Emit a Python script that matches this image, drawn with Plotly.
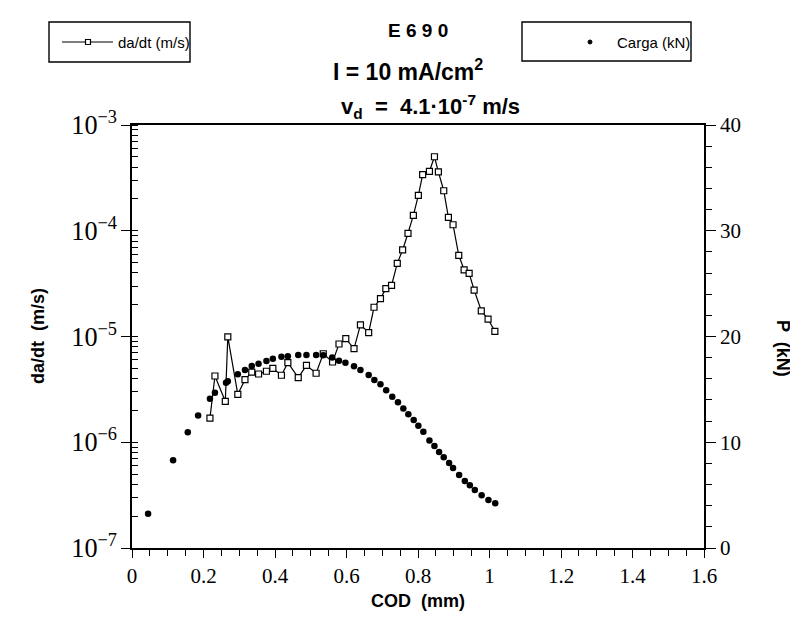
import plotly.graph_objects as go

# --- Carga (kN) series (dots, right axis) ---
cod_p = [0.045, 0.115, 0.156, 0.185, 0.218, 0.232, 0.263, 0.268, 0.296, 0.316,
         0.335, 0.354, 0.376, 0.394, 0.418, 0.436, 0.465, 0.488, 0.515, 0.535,
         0.560, 0.579, 0.597, 0.621, 0.639, 0.662, 0.678, 0.695, 0.711, 0.728,
         0.744, 0.759, 0.773, 0.788, 0.801, 0.815, 0.832, 0.846, 0.859, 0.872,
         0.887, 0.898, 0.915, 0.931, 0.945, 0.959, 0.978, 0.997, 1.016]
carga = [3.24, 8.29, 10.94, 12.53, 14.12, 14.69, 15.63, 15.76, 16.43, 16.83,
         17.21, 17.43, 17.68, 17.90, 18.09, 18.13, 18.25, 18.25, 18.25, 18.22,
         18.01, 17.71, 17.51, 17.18, 16.83, 16.36, 15.89, 15.48, 14.91, 14.31,
         13.78, 13.19, 12.65, 12.10, 11.56, 11.00, 10.17, 9.65, 9.08, 8.58,
         8.04, 7.57, 6.90, 6.34, 5.93, 5.48, 4.98, 4.54, 4.23]

# --- da/dt (m/s) series (open squares + line, left log axis) ---
cod_a = [0.218, 0.232, 0.261, 0.268, 0.296, 0.316, 0.335, 0.354, 0.376, 0.394,
         0.418, 0.436, 0.465, 0.488, 0.515, 0.535, 0.561, 0.579, 0.598, 0.621,
         0.639, 0.662, 0.677, 0.695, 0.710, 0.726, 0.742, 0.757, 0.772, 0.787,
         0.801, 0.813, 0.832, 0.846, 0.857, 0.872, 0.885, 0.898, 0.914, 0.929,
         0.943, 0.957, 0.977, 0.996, 1.015]
dadt = [1.69e-6, 4.23e-6, 2.44e-6, 9.9e-6, 2.84e-6, 3.91e-6, 4.61e-6, 4.42e-6, 4.69e-6, 5.0e-6,
        4.30e-6, 5.65e-6, 4.08e-6, 5.34e-6, 4.49e-6, 6.87e-6, 5.74e-6, 8.49e-6, 9.53e-6, 7.67e-6,
        1.29e-5, 1.09e-5, 1.89e-5, 2.28e-5, 2.83e-5, 3.05e-5, 4.92e-5, 6.58e-5, 9.46e-5, 1.40e-4,
        2.16e-4, 3.39e-4, 3.65e-4, 5.01e-4, 3.60e-4, 2.39e-4, 1.34e-4, 1.14e-4, 5.86e-5, 4.26e-5,
        3.96e-5, 2.75e-5, 1.75e-5, 1.46e-5, 1.12e-5]

# page offset of the figure div (default body margin)
OFF = 8
W, H = 798 - OFF, 630 - OFF
# plot area in page pixels: x 132..704, y 125..548
PL, PR, PT, PB = 132, 704, 125, 548
PW, PH = PR - PL, PB - PT
L, T = PL - OFF, PT - OFF
R, B = W - L - PW, H - T - PH


def px(x):
    return (x - PL) / PW


def py(y):
    return (PB - y) / PH


SERIF = "Liberation Serif"
SANS = "Liberation Sans, Arial"

fig = go.Figure()
fig.add_trace(go.Scatter(
    x=cod_a, y=dadt, mode="lines+markers", name="da/dt (m/s)",
    line=dict(color="black", width=1.2),
    marker=dict(symbol="square", size=6, color="white", line=dict(color="black", width=1.2)),
    yaxis="y", showlegend=False))
fig.add_trace(go.Scatter(
    x=cod_p, y=carga, mode="markers", name="Carga (kN)",
    marker=dict(symbol="circle", size=6.5, color="black"),
    yaxis="y2", showlegend=False))

fig.update_layout(
    width=W, height=H,
    margin=dict(l=L, r=R, t=T, b=B, pad=0),
    paper_bgcolor="white", plot_bgcolor="white",
    font=dict(family=SERIF, color="black"),
    xaxis=dict(range=[0, 1.6], dtick=0.2, tick0=0, showgrid=False, zeroline=False,
               showline=True, linecolor="black", linewidth=1.5, mirror=True,
               ticks="outside", ticklen=8, tickwidth=1.2, tickcolor="black",
               minor=dict(dtick=0.05, ticks="outside", ticklen=6, tickwidth=1, tickcolor="black"),
               tickfont=dict(family=SERIF, size=21, color="black")),
    yaxis=dict(type="log", range=[-7, -3], dtick=1, showgrid=False, zeroline=False,
               showline=True, linecolor="black", linewidth=1.5,
               ticks="outside", ticklen=9, tickwidth=1.2, tickcolor="black",
               exponentformat="power", showexponent="all",
               minor=dict(dtick="D1", ticks="inside", ticklen=6, tickwidth=1, tickcolor="black", showgrid=False),
               tickfont=dict(family=SERIF, size=21, color="black")),
    yaxis2=dict(range=[0, 40], dtick=10, overlaying="y", side="right", showgrid=False,
                zeroline=False, showline=True, linecolor="black", linewidth=1.5,
                ticks="outside", ticklen=10, tickwidth=1.2, tickcolor="black",
                minor=dict(dtick=2, ticks="outside", ticklen=6, tickwidth=1, tickcolor="black"),
                tickfont=dict(family=SERIF, size=21, color="black")),
)

ann = []
# titles
ann.append(dict(x=px(418), y=py(30), text="<b>E 6 9 0</b>", font=dict(family=SANS, size=19)))
ann.append(dict(x=px(408), y=py(70), text="<b>I = 10 mA/cm<sup>2</sup></b>", font=dict(family=SANS, size=23)))
ann.append(dict(x=px(430), y=py(106), text="<b>v<sub>d</sub>  =  4.1·10<sup>-7</sup> m/s</b>", font=dict(family=SANS, size=22)))
# axis titles
ann.append(dict(x=px(38), y=py(336), text="<b>da/dt  (m/s)</b>", textangle=-90, font=dict(family=SANS, size=18)))
ann.append(dict(x=px(783), y=py(348), text="<b>P  (kN)</b>", textangle=90, font=dict(family=SANS, size=18)))
ann.append(dict(x=px(418), y=py(601), text="<b>COD  (mm)</b>", font=dict(family=SANS, size=18)))
# legend texts
ann.append(dict(x=px(116), y=py(42), text="da/dt (m/s)", xanchor="left", font=dict(family=SANS, size=15)))
ann.append(dict(x=px(615), y=py(42), text="Carga (kN)", xanchor="left", font=dict(family=SANS, size=15)))
for a in ann:
    a.setdefault("xanchor", "center")
    a.update(xref="paper", yref="paper", yanchor="middle", showarrow=False)
fig.update_layout(annotations=ann)

shapes = [
    dict(type="rect", x0=px(49), x1=px(190), y0=py(62), y1=py(22), line=dict(color="black", width=1.4)),
    dict(type="rect", x0=px(522), x1=px(691), y0=py(61), y1=py(22), line=dict(color="black", width=1.4)),
    dict(type="line", x0=px(62), x1=px(113), y0=py(42), y1=py(42), line=dict(color="black", width=1.2)),
    dict(type="rect", x0=px(85.5), x1=px(90.5), y0=py(44.5), y1=py(39.5), fillcolor="white",
         line=dict(color="black", width=1.2)),
    dict(type="circle", x0=px(588), x1=px(592), y0=py(44), y1=py(40), fillcolor="black",
         line=dict(color="black", width=1)),
]
for s in shapes:
    s.update(xref="paper", yref="paper")
fig.update_layout(shapes=shapes)

fig.write_html("out.html")
